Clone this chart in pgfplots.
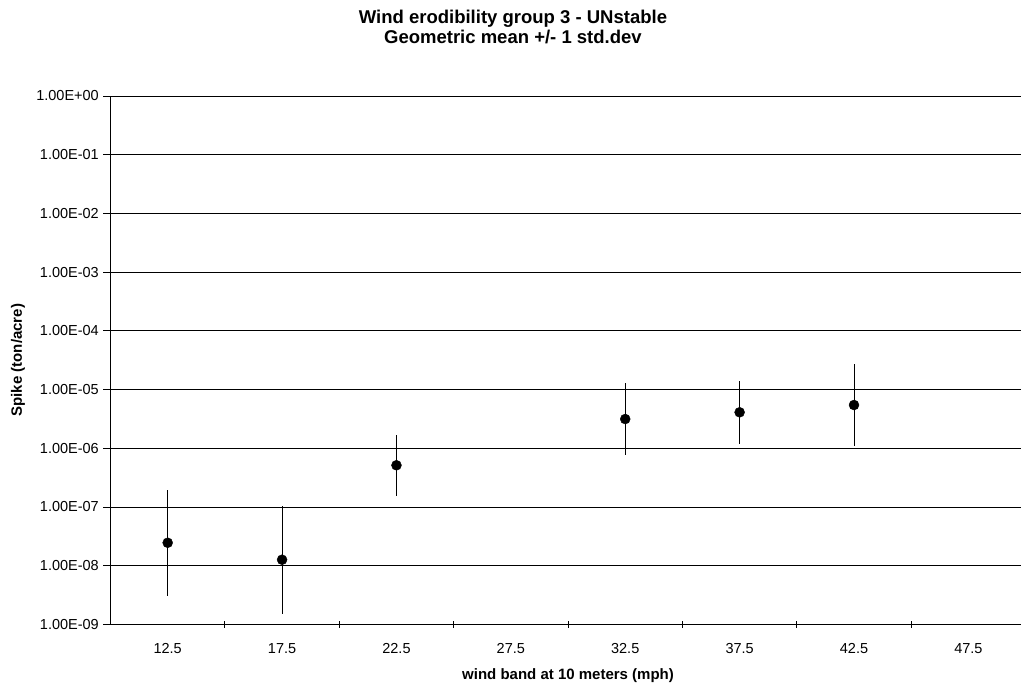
\documentclass[border=0pt]{standalone}
\usepackage{pgfplots}
\pgfplotsset{compat=1.18}
\usepackage{pgfplotstable}
\usepackage{fontspec}
\setmainfont{Liberation Sans}

\pgfplotstableread{
x   y        lo       hi
0.5 2.45e-8  3.07e-9  1.94e-7
1.5 1.26e-8  1.48e-9  1.05e-7
2.5 5.12e-7  1.53e-7  1.68e-6
4.5 3.14e-6  7.66e-7  1.28e-5
5.5 4.09e-6  1.16e-6  1.40e-5
6.5 5.44e-6  1.09e-6  2.68e-5
}\datatable

\begin{document}
\begin{tikzpicture}
\begin{axis}[
  at={(0,0)}, anchor=south west,
  scale only axis, width=910.5bp, height=528.3bp,
  xmin=0, xmax=7.96,
  ymode=log, ymin=1e-9, ymax=1,
  axis lines*=left,
  axis line style={black, line width=0.8bp, -},
  xtick={1,2,3,4,5,6,7}, xticklabels={},
  xtick align=center, ytick align=outside,
  major tick length=7bp,
  tick style={black, line width=0.8bp},
  extra x ticks={0.5,1.5,2.5,3.5,4.5,5.5,6.5,7.5},
  extra x tick labels={12.5,17.5,22.5,27.5,32.5,37.5,42.5,47.5},
  extra x tick style={grid=none, major tick length=0pt, tick style={draw=none}},
  ytick={1e-9,1e-8,1e-7,1e-6,1e-5,1e-4,1e-3,1e-2,1e-1,1},
  yticklabels={1.00E-09,1.00E-08,1.00E-07,1.00E-06,1.00E-05,1.00E-04,1.00E-03,1.00E-02,1.00E-01,1.00E+00},
  xminorticks=false, yminorticks=false,
  ymajorgrids, xmajorgrids=false,
  major grid style={black, line width=0.8bp},
  tick label style={font=\fontsize{14.5bp}{17bp}\selectfont},
  yticklabel style={anchor=east, inner sep=0pt, xshift=-4.5bp},
  xticklabel style={anchor=base, inner sep=0pt, yshift=-29bp},
  title={Wind erodibility group 3 - UNstable\\Geometric mean +/- 1 std.dev},
  title style={font=\bfseries\fontsize{18.5bp}{19.5bp}\selectfont, align=center,
    at={(axis description cs:0.442,1)}, anchor=south, inner sep=0pt, yshift=46bp},
  xlabel={wind band at 10 meters (mph)},
  xlabel style={font=\bfseries\fontsize{15bp}{18bp}\selectfont,
    at={(axis description cs:0.5025,0)}, anchor=base, inner sep=0pt, yshift=-55bp},
  ylabel={Spike (ton/acre)},
  ylabel style={font=\bfseries\fontsize{15bp}{18bp}\selectfont,
    at={(axis description cs:-0.1016,0.5)}, anchor=center, inner sep=0pt},
]
\addplot[only marks, mark=*, mark size=5bp, black, mark options={fill=black},
  error bars/.cd, y dir=both, y explicit, error mark=none,
  error bar style={line width=0.8bp, black}]
  table[x=x, y=y,
    y error plus expr=\thisrow{hi}-\thisrow{y},
    y error minus expr=\thisrow{y}-\thisrow{lo}] {\datatable};
\end{axis}
\pgfresetboundingbox
\path[use as bounding box] (-110.5bp,-61.7bp) rectangle (910.5bp,624.3bp);
\end{tikzpicture}
\end{document}
